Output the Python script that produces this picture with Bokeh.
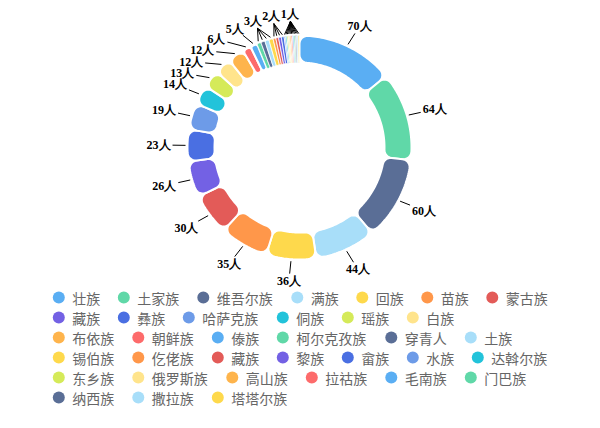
import math
from bokeh.plotting import figure
from bokeh.models import Range1d
from bokeh.embed import file_html
from bokeh.resources import INLINE
from bokeh.core.properties import value

# ---------------- data ----------------
names = ["壮族", "土家族", "维吾尔族", "满族", "回族", "苗族", "蒙古族",
         "藏族", "彝族", "哈萨克族", "侗族", "瑶族", "白族",
         "布依族", "朝鲜族", "傣族", "柯尔克孜族", "穿青人", "土族",
         "锡伯族", "仡佬族", "藏族", "黎族", "畲族", "水族", "达斡尔族",
         "东乡族", "俄罗斯族", "高山族", "拉祜族", "毛南族", "门巴族",
         "纳西族", "撒拉族", "塔塔尔族"]
values = [70, 64, 60, 44, 36, 35, 30,
          26, 23, 19, 14, 13, 12,
          12, 6, 5, 3, 3, 3,
          3, 2, 2, 2, 2, 1, 1,
          1, 1, 1, 1, 1, 1,
          1, 1, 1]
palette = ["#5aaef3", "#60d8a8", "#5a6e96", "#a8def9", "#fed94c",
           "#ff974a", "#e35b58", "#7361e4", "#4a6fe2", "#6d9be8",
           "#22c3da", "#d5ea59", "#ffe48c", "#feb44c", "#fd6b6b"]
unit = "人"
legend_rows = [7, 6, 6, 7, 6, 3]

# ---------------- figure ----------------
W, H = 584, 412
p = figure(width=W, height=H, x_range=Range1d(0, W), y_range=Range1d(H, 0),
           output_backend="svg", toolbar_location=None,
           x_axis_type=None, y_axis_type=None, min_border=0)
p.grid.visible = False
p.outline_line_color = None

CX, CY = 299.0, 147.0
R0, R1 = 85.0, 112.0
CORNER = 8.0


def pt(r, th):
    a = math.radians(th)
    return (CX + r * math.sin(a), CY - r * math.cos(a))


def arc_pts(c, pf, pt_, n=6):
    a0 = math.atan2(pf[1] - c[1], pf[0] - c[0])
    a1 = math.atan2(pt_[1] - c[1], pt_[0] - c[0])
    d = (a1 - a0 + math.pi) % (2 * math.pi) - math.pi
    rr = math.hypot(pf[0] - c[0], pf[1] - c[1])
    return [(c[0] + rr * math.cos(a0 + d * i / n), c[1] + rr * math.sin(a0 + d * i / n))
            for i in range(n + 1)]


def sector(t0, t1):
    span = math.radians(t1 - t0)
    s = math.sin(span / 2)
    cr = min(CORNER, (R1 - R0) / 2, R0 * s / (1 - s), R1 * s / (1 + s))
    rco, rci = R1 - cr, R0 + cr
    do = math.degrees(math.asin(cr / rco))
    di = math.degrees(math.asin(cr / rci))
    pts = []
    pts += arc_pts(pt(rco, t0 + do), pt(rco * math.cos(math.radians(do)), t0), pt(R1, t0 + do))
    sp = t1 - t0 - 2 * do
    n = max(2, int(sp / 1.0) + 1)
    pts += [pt(R1, t0 + do + sp * i / n) for i in range(1, n)]
    pts += arc_pts(pt(rco, t1 - do), pt(R1, t1 - do), pt(rco * math.cos(math.radians(do)), t1))
    pts += arc_pts(pt(rci, t1 - di), pt(rci * math.cos(math.radians(di)), t1), pt(R0, t1 - di))
    sp = t1 - t0 - 2 * di
    n = max(2, int(sp / 1.0) + 1)
    pts += [pt(R0, t1 - di - sp * i / n) for i in range(1, n)]
    pts += arc_pts(pt(rci, t0 + di), pt(R0, t0 + di), pt(rci * math.cos(math.radians(di)), t0))
    return [q[0] for q in pts], [q[1] for q in pts]


total = float(sum(values))
starts, ends, mids = [], [], []
acc = 0.0
for v in values:
    a0 = acc / total * 360.0
    acc += v
    a1 = acc / total * 360.0
    starts.append(a0)
    ends.append(a1)
    mids.append((a0 + a1) / 2)

colors = [palette[i % len(palette)] for i in range(len(values))]
xs_list, ys_list, lws = [], [], []
for a0, a1 in zip(starts, ends):
    xs, ys = sector(a0, a1)
    xs_list.append(xs)
    ys_list.append(ys)
    arc_len = math.radians(a1 - a0) * R1
    lws.append(2.0 if arc_len > 6 else 0.8)
p.patches(xs_list, ys_list, fill_color=colors, line_color="white", line_width=lws)

# ---------------- labels ----------------
groups = []
i = 0
nv = len(values)
while i < nv:
    j = i
    if values[i] <= 3:
        while j + 1 < nv and values[j + 1] == values[i]:
            j += 1
    groups.append(list(range(i, j + 1)))
    i = j + 1

LA, LB = 141.0, 134.0
LH = 11.0


def lpos(phi):
    a = math.radians(phi)
    return (CX + LA * math.sin(a), CY - LB * math.cos(a))


labels = []
for g in groups:
    th = (starts[g[0]] + ends[g[-1]]) / 2
    txt = f"{values[g[0]]}{unit}"
    w = 6.0 * len(str(values[g[0]])) + 12.0
    labels.append({"g": g, "th": th, "txt": txt, "w": w, "phi": th})


def overlap(a, b, pad=0.0):
    ca, cb = lpos(a["phi"]), lpos(b["phi"])
    return (abs(ca[0] - cb[0]) < (a["w"] + b["w"]) / 2 + pad and
            abs(ca[1] - cb[1]) < LH + pad)


left = sorted([l for l in labels if l["th"] >= 180], key=lambda l: -l["th"])
placed = []
for l in left:
    while any(overlap(l, q) for q in placed):
        l["phi"] -= 0.25
    placed.append(l)

lx, ly, lt = [], [], []
sx0, sy0, sx1, sy1 = [], [], [], []
for l in labels:
    c = lpos(l["phi"])
    lx.append(c[0])
    ly.append(c[1])
    lt.append(l["txt"])
    pg = pt(114, l["th"])
    vx, vy = pg[0] - c[0], pg[1] - c[1]
    nrm = math.hypot(vx, vy)
    vx, vy = vx / nrm, vy / nrm
    t = min((l["w"] / 2) / max(abs(vx), 1e-6), (LH / 2) / max(abs(vy), 1e-6)) + 2.0
    apex = (c[0] + vx * t, c[1] + vy * t)
    for k in l["g"]:
        ps = pt(114, mids[k])
        sx0.append(ps[0]); sy0.append(ps[1]); sx1.append(apex[0]); sy1.append(apex[1])

p.segment(sx0, sy0, sx1, sy1, line_color="black", line_width=1)
p.text(lx, ly, text=lt, text_align="center", text_baseline="middle",
       text_font=value("Liberation Serif"), text_font_style="bold",
       text_font_size="12px", text_color="black")

# ---------------- legend ----------------
gx, gy, gc, tx, ty, tt = [], [], [], [], [], []
idx = 0
for r, cnt in enumerate(legend_rows):
    x = 58.3
    y = 297.0 + 20.0 * r
    for _ in range(cnt):
        nm = names[idx]
        gx.append(x); gy.append(y); gc.append(colors[idx])
        tx.append(x + 13.4); ty.append(y + 0.5); tt.append(nm)
        x += 36.0 + 14.5 * len(nm)
        idx += 1

p.scatter(gx, gy, marker="circle", size=12, fill_color=gc, line_color=None)
p.text(tx, ty, text=tt, text_align="left", text_baseline="middle",
       text_font=value("Noto Sans CJK SC"), text_font_size="14px", text_color="#666666")

open("out.html", "w").write(file_html(p, INLINE))
